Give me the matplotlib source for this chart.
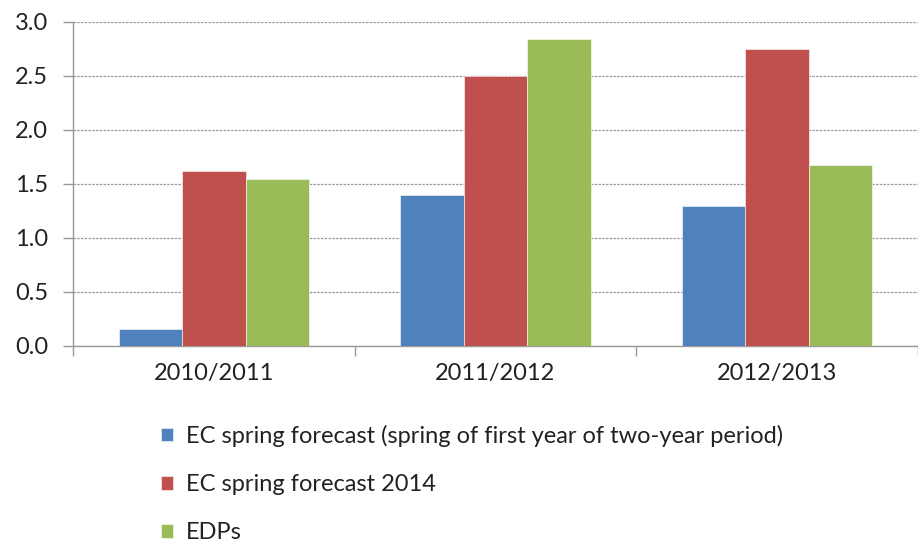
import matplotlib
matplotlib.use("Agg")
import matplotlib.pyplot as plt
import numpy as np

categories = ["2010/2011", "2011/2012", "2012/2013"]
series_names = ["EC spring forecast (spring of first year of two-year period)",
                "EC spring forecast 2014", "EDPs"]
ec_first_year = [0.16, 1.40, 1.30]
ec_2014 = [1.62, 2.50, 2.75]
edps = [1.55, 2.84, 1.68]
colors = ["#4F81BD", "#C0504D", "#9BBB59"]
yticks = [0.0, 0.5, 1.0, 1.5, 2.0, 2.5, 3.0]

plt.rcParams['font.family'] = ['Lato', 'DejaVu Sans']

fig = plt.figure(figsize=(9.18, 5.45), dpi=100)
ax = fig.add_axes([73/918, 1-346/545, 1-73/918, (346-22)/545])

x = np.arange(len(categories))
w = 0.225
handles = []
for i, (vals, c, name) in enumerate(zip([ec_first_year, ec_2014, edps], colors, series_names)):
    h = ax.bar(x + (i-1)*w, vals, width=w, color=c, edgecolor='white', linewidth=0.4,
               label=name, zorder=3)
    handles.append(h)

FS = 17
ax.set_xlim(-0.5, len(categories)-0.5)
ax.set_ylim(0, 3.0)
ax.set_yticks(yticks)
ax.set_yticklabels([f"{v:.1f}" for v in yticks], fontsize=FS, color='#222222')
ax.set_xticks(x)
ax.set_xticklabels(categories, fontsize=FS, color='#222222')
ax.set_xticks(np.arange(-0.5, len(categories), 1.0), minor=True)
ax.tick_params(axis='x', which='major', length=0, pad=12)
ax.tick_params(axis='x', which='minor', length=7, color='#999999', width=1)
ax.tick_params(axis='y', length=7, color='#999999', width=1, direction='out', pad=11)
ax.yaxis.grid(True, linestyle=(0, (2, 1)), color='#999999', linewidth=0.9, zorder=0)
for s in ['top', 'right']:
    ax.spines[s].set_visible(False)
ax.spines['left'].set_color('#999999')
ax.spines['bottom'].set_color('#999999')
ax.spines['left'].set_linewidth(1)
ax.spines['bottom'].set_linewidth(1)

leg = fig.legend(handles=handles, labels=series_names, loc='upper left',
                 bbox_to_anchor=(161/918, 1-425/545), frameon=False, fontsize=FS,
                 handlelength=0.5, handleheight=0.5, handletextpad=0.55,
                 labelspacing=1.15, borderpad=0, borderaxespad=0)
for t in leg.get_texts():
    t.set_color('#222222')

fig.savefig("out.png", dpi=100)
